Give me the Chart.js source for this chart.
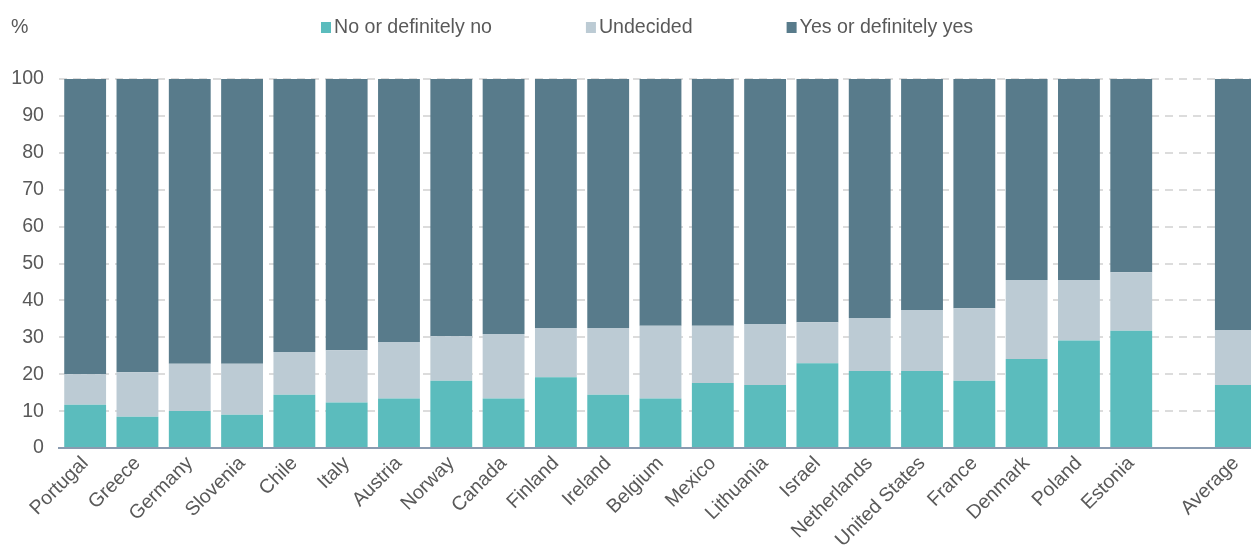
<!DOCTYPE html>
<html>
<head>
<meta charset="utf-8">
<script src="https://cdn.jsdelivr.net/npm/chart.js@4.4.1/dist/chart.umd.min.js"></script>
<style>
  html, body { margin: 0; padding: 0; background: #fff; overflow: hidden; }
  #wrap { width: 1262px; height: 545px; }
</style>
</head>
<body>
<div id="wrap"><canvas id="myChart" width="1262" height="545"></canvas></div>
<script>
// Catégories (une case vide avant la moyenne)
const countries = ['Portugal', 'Greece', 'Germany', 'Slovenia', 'Chile', 'Italy', 'Austria', 'Norway', 'Canada',
  'Finland', 'Ireland', 'Belgium', 'Mexico', 'Lithuania', 'Israel', 'Netherlands', 'United States', 'France',
  'Denmark', 'Poland', 'Estonia', '', 'Average'];

// Valeurs (%)
const noValues = [11.7, 8.5, 10.0, 9.0, 14.4, 12.3, 13.4, 18.2, 13.4, 19.2, 14.4, 13.4, 17.6, 17.1, 23.0, 20.9,
  20.9, 18.2, 24.1, 29.1, 31.8, null, 17.1];
const undecidedValues = [8.3, 12.0, 12.8, 13.8, 11.6, 14.2, 15.3, 12.1, 17.5, 13.3, 18.1, 19.7, 15.5, 16.5, 11.1,
  14.3, 16.5, 19.7, 21.4, 16.4, 15.8, null, 14.9];
const yesValues = [80.0, 79.5, 77.2, 77.2, 74.0, 73.5, 71.3, 69.7, 69.1, 67.5, 67.5, 66.9, 66.9, 66.4, 65.9, 64.8,
  62.6, 62.1, 54.5, 54.5, 52.4, null, 68.0];

const seriesLabels = ['No or definitely no', 'Undecided', 'Yes or definitely yes'];
const seriesColors = ['#5BBCBD', '#BCCBD4', '#587B8B'];

const FONT = '"Liberation Sans", Arial, sans-serif';
const FONT_SIZE = 19.6;
const TEXT_COLOR = '#595959';

// Légende et "%" dessinés à la main
const legendPlugin = {
  id: 'customLegend',
  afterDraw(chart) {
    const ctx = chart.ctx;
    ctx.save();
    ctx.font = FONT_SIZE + 'px ' + FONT;
    ctx.textBaseline = 'middle';
    ctx.fillStyle = TEXT_COLOR;
    ctx.fillText('%', 11, 28);

    let x = 321;
    const y = 27.5;
    chart.data.datasets.forEach(ds => {
      ctx.fillStyle = ds.backgroundColor;
      ctx.fillRect(x, y - 5.5, 10, 11);
      ctx.fillStyle = TEXT_COLOR;
      ctx.fillText(ds.label, x + 13, y);
      x += 13 + ctx.measureText(ds.label).width + 94;
    });
    ctx.restore();
  }
};

const ctx = document.getElementById('myChart').getContext('2d');
new Chart(ctx, {
  type: 'bar',
  data: {
    labels: countries,
    datasets: [
      { label: seriesLabels[0], data: noValues, backgroundColor: seriesColors[0] },
      { label: seriesLabels[1], data: undecidedValues, backgroundColor: seriesColors[1] },
      { label: seriesLabels[2], data: yesValues, backgroundColor: seriesColors[2] }
    ]
  },
  options: {
    responsive: false,
    animation: false,
    devicePixelRatio: 1,
    layout: { padding: { top: 79, left: 0, right: 0, bottom: 0 } },
    datasets: {
      bar: { barPercentage: 0.8, categoryPercentage: 1.0, borderWidth: 0 }
    },
    plugins: {
      legend: { display: false },
      tooltip: { enabled: false }
    },
    scales: {
      x: {
        stacked: true,
        grid: { display: false, drawTicks: false },
        border: { display: true, color: '#8A9BB0', width: 2 },
        ticks: {
          color: TEXT_COLOR,
          font: { family: FONT, size: FONT_SIZE },
          minRotation: 45,
          maxRotation: 45,
          autoSkip: false,
          padding: 4
        },
        afterFit: scale => { scale.height = 97; }
      },
      y: {
        stacked: true,
        min: 0,
        max: 100,
        grid: { color: '#DCDCDC', lineWidth: 2, drawTicks: false },
        border: { display: false, dash: [8, 6] },
        ticks: {
          stepSize: 10,
          color: TEXT_COLOR,
          font: { family: FONT, size: FONT_SIZE },
          padding: 15
        },
        afterFit: scale => { scale.width = 59; }
      }
    }
  },
  plugins: [legendPlugin]
});
</script>
</body>
</html>
